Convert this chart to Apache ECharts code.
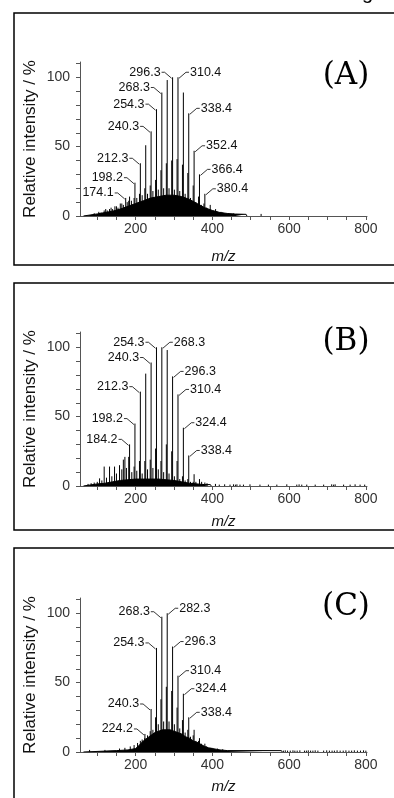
<!DOCTYPE html>
<html>
<head>
<meta charset="utf-8">
<title>Mass spectra (A)-(C)</title>
<script src="https://cdn.jsdelivr.net/npm/echarts@6.0.0/dist/echarts.min.js"></script>
<style>
  html, body { margin: 0; padding: 0; background: #fff; }
  #spectra { width: 394px; height: 798px; }
</style>
</head>
<body>
<div id="spectra"></div>
<script>
// axis ticks / labels
const xTicks = [100, 150, 200, 250, 300, 350, 400, 450, 500, 550, 600, 650, 700, 750, 800];
const xLabels = [200, 400, 600, 800];
const yTicks = [0, 10, 20, 30, 40, 50, 60, 70, 80, 90, 100, 110];
const yLabels = [0, 50, 100];
const panelNames = ['(A)', '(B)', '(C)'];

// (A)
const aMainMz = [118, 132, 146, 160, 174.1, 184.2, 198.2, 212.3, 226.3, 240.3, 254.3, 268.3, 282.3, 296.3, 310.4, 324.4, 338.4, 352.4, 366.4, 380.4, 394.4, 408.4, 422.4];
const aMainInt = [4, 5, 7, 9, 13, 14, 24, 38, 51, 61, 77, 89, 98, 100, 100, 89, 74, 47, 30, 16, 8, 5, 3];
const aSubMz = [182, 196, 210, 224, 238, 252, 266, 280, 294, 308, 322, 336, 350, 364, 378];
const aSubInt = [11, 13, 16, 20, 22, 26, 33, 38, 40, 41, 37, 31, 22, 14, 9];
const aMinorMz = [92, 104, 110, 122, 126, 136, 140, 150, 154, 164, 168, 178, 189, 203, 217, 231, 245, 259, 273, 287, 301, 315, 329, 343, 357, 371, 385, 399, 413, 427, 441, 455, 527];
const aMinorInt = [2, 3, 2.5, 5, 4, 6, 5, 7, 6, 9, 8, 10, 11, 13, 15, 16, 18, 19, 20, 20, 19, 18, 16, 13, 10, 8, 6, 4, 3, 2.5, 2, 1.8, 1.5];
const aEnvMz = [64, 66, 100, 120, 140, 160, 180, 200, 220, 240, 260, 280, 300, 320, 340, 360, 380, 400, 420, 440, 460, 488, 490];
const aEnvInt = [0, 1, 1.5, 2.5, 3.5, 5, 7, 9, 11, 13, 14, 15, 15, 14, 12, 9, 6, 4, 2.5, 1.8, 1.4, 1.2, 0];
const aLabelMz = [174.1, 198.2, 212.3, 240.3, 254.3, 268.3, 296.3, 310.4, 338.4, 352.4, 366.4, 380.4];
const aLabelSide = [-1, -1, -1, -1, -1, -1, -1, 1, 1, 1, 1, 1];

// (B)
const bMainMz = [118, 132, 145, 158, 172, 184.2, 198.2, 212.3, 226.3, 240.3, 254.3, 268.3, 282.3, 296.3, 310.4, 324.4, 338.4, 352.4, 366.4, 380.4];
const bMainInt = [14, 14, 14, 15, 21, 30, 45, 68, 81, 89, 100, 100, 98, 79, 66, 42, 22, 8.5, 5, 2.5];
const bSubMz = [168, 182, 196, 210, 224, 238, 252, 266, 280, 294, 308, 322, 336, 350];
const bSubInt = [19, 21, 14, 18, 18, 19, 27, 18, 30, 25, 18, 7, 5, 3];
const bMinorMz = [76, 84, 92, 100, 106, 112, 124, 138, 150, 164, 176, 190, 203, 217, 231, 245, 259, 273, 287, 301, 315, 329, 343, 357, 372, 386];
const bMinorInt = [1.5, 2, 2.5, 3, 5.5, 4, 6, 7, 9, 12, 13, 10, 11, 9, 12, 13, 12, 10, 9, 7, 5, 4, 3, 3, 3, 2];
const bDotMz = [408, 418, 432, 446, 455, 460, 464, 472, 481, 498, 524, 546, 568, 594, 620, 626, 633, 646, 668, 690, 711, 716, 720, 742, 759, 772, 785, 797];
const bDotInt = [1.5, 1, 1.2, 1, 1.2, 1, 1.2, 1, 1, 1.2, 1, 1, 1, 1.2, 1, 1.2, 1, 1, 1, 1, 1.2, 1, 1.2, 1, 1, 1.2, 1, 1];
const bEnvMz = [64, 66, 100, 120, 140, 160, 180, 200, 220, 240, 260, 280, 300, 320, 340, 360, 380, 395, 397];
const bEnvInt = [0, 1, 1.5, 2, 3, 4, 4.5, 5, 5, 5, 5, 4.5, 4, 3, 2, 1.5, 1, 1, 0];
const bLabelMz = [184.2, 198.2, 212.3, 240.3, 254.3, 268.3, 296.3, 310.4, 324.4, 338.4];
const bLabelSide = [-1, -1, -1, -1, -1, 1, 1, 1, 1, 1];

// (C)
const cMainMz = [212.3, 224.2, 240.3, 254.3, 268.3, 282.3, 296.3, 310.4, 324.4, 338.4, 352.4, 366.4, 380.4, 394.4];
const cMainInt = [8, 13, 31, 75, 97.5, 100, 76, 55, 42, 25, 16, 10, 6, 3];
const cSubMz = [224, 238, 252, 266, 280, 294, 308, 322, 336, 350, 364];
const cSubInt = [10, 15, 25, 38, 47, 44, 32, 23, 16, 12, 8];
const cMinorMz = [80, 120, 158, 172, 186, 196, 205, 217, 231, 245, 259, 273, 287, 301, 315, 329, 343, 357, 371, 385, 399, 413, 427];
const cMinorInt = [1.5, 1.5, 2.5, 3, 4, 5, 6.5, 9, 12, 16, 20, 22, 22, 20, 17, 14, 11, 8, 6, 4, 3, 2.5, 2];
const cDotMz = [585, 590, 596, 603, 610, 615, 621, 628, 640, 645, 650, 656, 662, 668, 675, 690, 698, 705, 712, 718, 725, 733, 741, 748, 756, 763, 770, 778, 786, 794, 800];
const cDotInt = [1, 1.2, 1, 1, 1.2, 1, 1, 1.2, 1, 1, 1.2, 1, 1, 1.2, 1, 1, 1.2, 1, 1, 1, 1.2, 1, 1, 1.2, 1, 1, 1.2, 1, 1, 1.2, 1];
const cEnvMz = [64, 66, 150, 180, 200, 210, 220, 230, 240, 250, 260, 270, 280, 290, 300, 310, 320, 330, 340, 350, 360, 370, 380, 390, 400, 410, 420, 440, 580, 582];
const cEnvInt = [0, 1, 1, 1.5, 2.5, 5, 8, 10, 12, 14, 15, 16, 16, 16, 15, 14, 13, 11, 10, 8, 7, 5.5, 4, 3, 2.5, 2, 1.5, 1, 1, 0];
const cLabelMz = [224.2, 240.3, 254.3, 268.3, 282.3, 296.3, 310.4, 324.4, 338.4];
const cLabelSide = [-1, -1, -1, -1, 1, 1, 1, 1, 1];

const font = "'Liberation Sans', Arial, sans-serif";

function pairs(xs, ys) {
  return xs.map((x, i) => [x, ys[i]]);
}

function labelData(labelMz, sides, mainMz, mainInt) {
  return labelMz.map((mz, i) => [mz, mainInt[mainMz.indexOf(mz)], sides[i]]);
}

const panels = [
  {
    sticks: pairs(aMainMz, aMainInt).concat(pairs(aSubMz, aSubInt), pairs(aMinorMz, aMinorInt)),
    env: pairs(aEnvMz, aEnvInt),
    labels: labelData(aLabelMz, aLabelSide, aMainMz, aMainInt)
  },
  {
    sticks: pairs(bMainMz, bMainInt).concat(pairs(bSubMz, bSubInt), pairs(bMinorMz, bMinorInt), pairs(bDotMz, bDotInt)),
    env: pairs(bEnvMz, bEnvInt),
    labels: labelData(bLabelMz, bLabelSide, bMainMz, bMainInt)
  },
  {
    sticks: pairs(cMainMz, cMainInt).concat(pairs(cSubMz, cSubInt), pairs(cMinorMz, cMinorInt), pairs(cDotMz, cDotInt)),
    env: pairs(cEnvMz, cEnvInt),
    labels: labelData(cLabelMz, cLabelSide, cMainMz, cMainInt)
  }
];

const gridTops = [62, 332, 598];
const boxes = [[13, 252], [283, 247], [548, 300]];
const nameY = [76, 341.7, 606.7];
const mzGap = [33, 28, 27];

function drawStick(params, api) {
  const top = api.coord([api.value(0), api.value(1)]);
  const base = api.coord([api.value(0), 0]);
  return {
    type: 'line',
    shape: { x1: top[0], y1: top[1], x2: base[0], y2: base[1] },
    style: { stroke: '#000', lineWidth: 1 }
  };
}

function drawLabel(params, api) {
  const p = api.coord([api.value(0), api.value(1)]);
  const s = api.value(2);
  const ty = p[1] - 5;
  return {
    type: 'group',
    children: [
      {
        type: 'polyline',
        shape: { points: [[p[0] + s, p[1] + 1], [p[0] + s * 8, ty], [p[0] + s * 11, ty]] },
        style: { stroke: '#000', lineWidth: 0.8, fill: 'none' }
      },
      {
        type: 'text',
        style: {
          text: api.value(0).toFixed(1),
          x: p[0] + s * 12,
          y: ty,
          font: '12.5px ' + font,
          fill: '#111',
          align: s < 0 ? 'right' : 'left',
          verticalAlign: 'middle'
        }
      }
    ]
  };
}

const grid = [], xAxis = [], yAxis = [], series = [], graphic = [];

panels.forEach(function (pn, i) {
  grid.push({ left: 80, top: gridTops[i], width: 287, height: 154 });
  xAxis.push({
    type: 'value', gridIndex: i, min: 55, max: 803,
    axisLine: { show: true, lineStyle: { color: '#555', width: 1 } },
    axisTick: { show: true, customValues: xTicks, length: 4, lineStyle: { color: '#555' } },
    axisLabel: { customValues: xLabels, fontSize: 14, fontFamily: font, color: '#333', margin: 6 },
    splitLine: { show: false },
    name: 'm/z', nameLocation: 'middle', nameGap: mzGap[i],
    nameTextStyle: { fontSize: 15, fontStyle: 'italic', fontFamily: font, color: '#111' }
  });
  yAxis.push({
    type: 'value', gridIndex: i, min: 0, max: 111,
    axisLine: { show: true, lineStyle: { color: '#555', width: 1 } },
    axisTick: { show: true, customValues: yTicks, length: 4, lineStyle: { color: '#555' } },
    axisLabel: { customValues: yLabels, fontSize: 14, fontFamily: font, color: '#333', margin: 10 },
    splitLine: { show: false },
    name: 'Relative intensity / %', nameLocation: 'middle', nameRotate: 90, nameGap: 41,
    nameMoveOverlap: false,
    nameTextStyle: { fontSize: 17, fontFamily: font, color: '#111' }
  });
  series.push({
    type: 'line', xAxisIndex: i, yAxisIndex: i, data: pn.env,
    symbol: 'none', lineStyle: { color: '#000', width: 1 },
    areaStyle: { color: '#000', opacity: 1 }, silent: true, z: 2
  });
  series.push({
    type: 'custom', xAxisIndex: i, yAxisIndex: i, data: pn.sticks,
    encode: { x: 0, y: 1 }, renderItem: drawStick, silent: true, z: 3
  });
  series.push({
    type: 'custom', xAxisIndex: i, yAxisIndex: i, data: pn.labels,
    encode: { x: 0, y: 1 }, renderItem: drawLabel, silent: true, z: 4
  });
  graphic.push({
    type: 'rect', shape: { x: 14, y: boxes[i][0], width: 400, height: boxes[i][1] },
    style: { fill: 'none', stroke: '#000', lineWidth: 1.5 }
  });
  graphic.push({
    type: 'text', x: 346, y: nameY[i],
    style: { text: panelNames[i], font: "31px 'DejaVu Serif', serif", fill: '#000', align: 'center', verticalAlign: 'middle' }
  });
});

graphic.push({
  type: 'text', x: 362, y: 3.5,
  style: { text: 'g', font: '20px ' + font, fill: '#000', align: 'left', verticalAlign: 'bottom' }
});

const chart = echarts.init(document.getElementById('spectra'));
chart.setOption({
  animation: false,
  backgroundColor: '#fff',
  grid: grid,
  xAxis: xAxis,
  yAxis: yAxis,
  series: series,
  graphic: graphic
});
</script>
</body>
</html>
